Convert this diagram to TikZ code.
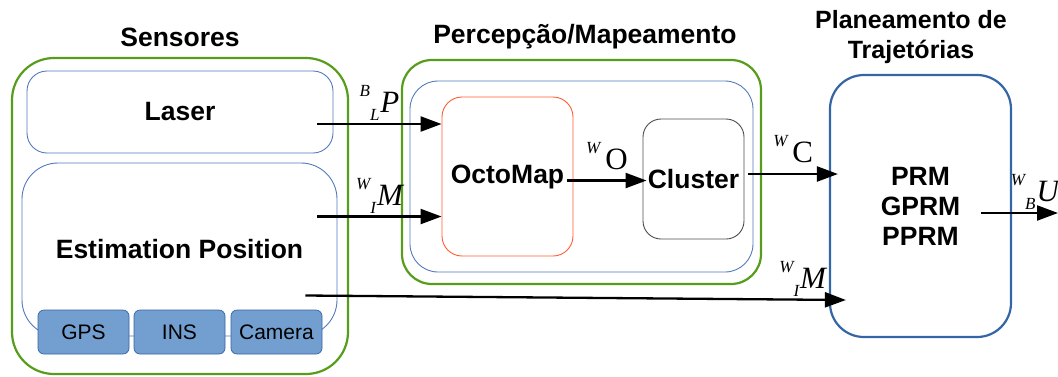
\documentclass[tikz,border=0pt]{standalone}
\usepackage{amsmath}
\usepackage{fontspec}
\setmainfont{Liberation Sans}
\newfontfamily\lblfont{Liberation Serif}
\usepackage{tikz}
\usetikzlibrary{positioning}
\usetikzlibrary{arrows.meta}

\definecolor{grpgreen}{RGB}{87,157,28}
\definecolor{boxblue}{RGB}{52,101,164}
\definecolor{thinblue}{RGB}{82,122,188}
\definecolor{mapred}{RGB}{255,90,50}
\definecolor{sensfill}{RGB}{114,159,207}

% frame label: left superscript, left subscript, symbol
\newcommand{\frm}[3]{{\lblfont\itshape
  \fontsize{17}{17}\selectfont\raisebox{16pt}{#1}\raisebox{-8pt}{#2}\kern1pt
  \fontsize{31}{31}\selectfont #3}}

\tikzset{
  grpbox/.style={draw=grpgreen, line width=2.2pt, rounded corners=#1, inner sep=0pt},
  unitbox/.style={draw=thinblue, line width=0.9pt, rounded corners=#1, inner sep=0pt,
    font=\fontsize{26.5}{30}\selectfont\bfseries},
  sensbox/.style={draw=boxblue, fill=sensfill, line width=0.7pt, rounded corners=6pt,
    minimum width=91pt, minimum height=44pt, inner sep=0pt, font=\fontsize{21}{24}\selectfont},
  ttl/.style={font=\fontsize{26.5}{30}\selectfont\bfseries, align=center, inner sep=0pt},
  flow/.style={line width=2.3pt, -{Triangle[length=21pt,width=15pt]}},
  arrlbl/.style={inner sep=2pt}
}

\begin{document}
\begin{tikzpicture}[x=1pt,y=-1pt]
	\useasboundingbox (0,0) rectangle (1058,376);

	% Sensores
	\node[grpbox=42pt, minimum width=336pt, minimum height=316pt] (sensores) at (180,216) {};
	\node[ttl] (tsens) at (180,37) {Sensores};
	\node[unitbox=20pt, minimum width=306pt, minimum height=82pt] (laser) at (180,112) {Laser};
	\node[unitbox=36pt, minimum width=315pt, minimum height=173pt] (estim) at (179.5,249.5) {Estimation Position};
	\node[sensbox] (gps) at (83.5,332) {GPS};
	\node[sensbox] (ins) at (179.5,332) {INS};
	\node[sensbox] (camera) at (276.5,332) {Camera};

	% Percepcao / Mapeamento
	\node[grpbox=30pt, minimum width=359pt, minimum height=224pt] (percep) at (581.5,172) {};
	\node[ttl] (tpercep) at (585,37) {Percepção/Mapeamento};
	\node[unitbox=28pt, minimum width=343pt, minimum height=191pt] (mapping) at (581.5,176.5) {};
	\node[unitbox=20pt, draw=mapred, minimum width=131pt, minimum height=159pt] (octomap) at (507.5,176.5) {OctoMap};
	\node[unitbox=18pt, draw=black!70, minimum width=101pt, minimum height=120pt] (cluster) at (693.5,179) {Cluster};

	% Planeamento de trajetorias
	\node[unitbox=34pt, draw=boxblue, line width=2.2pt, align=center, minimum width=181pt, minimum height=262pt] (planner) at (920.5,206) {PRM\\GPRM\\PPRM};
	\node[ttl, font=\fontsize{25}{30}\selectfont\bfseries] (tplan) at (911,37) {Planeamento de\\Trajetórias};
	\coordinate (out) at (1058,213);

	% fluxos
	\draw[flow] ([shift={(-16,12)}]laser.east) coordinate (lp) -- (octomap.west |- lp)
		node[arrlbl, midway, above]{\frm{B}{L}{P}};
	\draw[flow] ([shift={(-20,-33)}]estim.east) coordinate (em) -- (octomap.west |- em)
		node[arrlbl, midway, above]{\frm{W}{I}{M}};
	\draw[flow] ([shift={(-6,4)}]octomap.east) coordinate (om) -- ([xshift=4pt]cluster.west |- om)
		node[arrlbl, midway, above]{\frm{W}{}{\kern4pt\upshape O}};
	\draw[flow] ([shift={(4,-5)}]cluster.east) coordinate (cm) -- ([xshift=9pt]planner.west |- cm)
		node[arrlbl, midway, above]{\frm{W}{}{\kern4pt\upshape C}};
	\draw[flow] ([shift={(-32,46)}]estim.east) -- ([shift={(17,94)}]planner.west)
		node[arrlbl, pos=0.92, above]{\frm{W}{I}{M}};
	\draw[flow] ([shift={(-31,7)}]planner.east) -- (out)
		node[arrlbl, pos=0.7, above]{\frm{W}{B}{U}};
\end{tikzpicture}
\end{document}
